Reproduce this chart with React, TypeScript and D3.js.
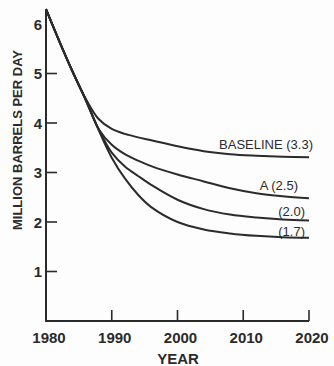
import React from "react";
import { scaleLinear, line, curveCatmullRom } from "d3";

// years sampled along the curves
const years = [1980, 1982, 1984, 1986, 1988, 1990, 1992, 1994, 1996, 2000, 2004, 2008, 2012, 2016, 2020];
const baseline = [6.3, 5.66, 5.05, 4.5, 4.08, 3.88, 3.78, 3.71, 3.65, 3.53, 3.43, 3.37, 3.34, 3.32, 3.31];
const caseA = [6.3, 5.66, 5.05, 4.48, 3.88, 3.56, 3.37, 3.24, 3.13, 2.96, 2.82, 2.68, 2.58, 2.52, 2.48];
const case20 = [6.3, 5.66, 5.05, 4.48, 3.88, 3.4, 3.12, 2.93, 2.75, 2.45, 2.26, 2.15, 2.09, 2.05, 2.03];
const case17 = [6.3, 5.66, 5.05, 4.48, 3.86, 3.3, 2.88, 2.55, 2.3, 2.0, 1.85, 1.77, 1.72, 1.69, 1.68];

const series = [
  { label: "BASELINE (3.3)", values: baseline, dx: 4, dy: -8 },
  { label: "A  (2.5)", values: caseA, dx: -11, dy: -8 },
  { label: "(2.0)", values: case20, dx: -4, dy: -5 },
  { label: "(1.7)", values: case17, dx: -4, dy: -2 },
];

const xTicks = [1980, 1990, 2000, 2010, 2020];
const yTicks = [1, 2, 3, 4, 5, 6];

const W = 334;
const H = 366;
const ink = "#2b2b2b";
const font = "'Liberation Sans', Arial, sans-serif";

export default function App() {
  const x = scaleLinear().domain([1980, 2020]).range([46, 309]);
  const y = scaleLinear().domain([0, 6]).range([321, 24]);

  const path = line<number>()
    .x((d, i) => x(years[i]))
    .y((d) => y(d))
    .curve(curveCatmullRom.alpha(0.5));

  return (
    <svg
      width={W}
      height={H}
      style={{ position: "absolute", left: 0, top: 0, background: "#fdfdfd" }}
      fontFamily={font}
    >
      {/* axes */}
      <line x1={x(1980)} x2={x(1980)} y1={y(0)} y2={y(6.27)} stroke={ink} strokeWidth={2} />
      <line x1={x(1980) - 1} x2={x(2020)} y1={y(0)} y2={y(0)} stroke={ink} strokeWidth={2} />

      {xTicks.map((t) => (
        <g key={t}>
          {t !== 1980 && (
            <line x1={x(t)} x2={x(t)} y1={y(0)} y2={y(0) - 11} stroke={ink} strokeWidth={1.6} />
          )}
          <text x={x(t) + 3} y={343} textAnchor="middle" fontSize={15} fontWeight="bold" fill={ink}>
            {t}
          </text>
        </g>
      ))}

      {yTicks.map((t) => (
        <g key={t}>
          {t !== 6 && (
            <line x1={x(1980)} x2={x(1980) + 11} y1={y(t)} y2={y(t)} stroke={ink} strokeWidth={1.6} />
          )}
          <text x={42} y={y(t) + 5.5} textAnchor="end" fontSize={15} fontWeight="bold" fill={ink}>
            {t}
          </text>
        </g>
      ))}

      <text x={178} y={364} textAnchor="middle" fontSize={15} fontWeight="bold" fill={ink}>
        YEAR
      </text>
      <text
        transform={`translate(22,140) rotate(-90)`}
        textAnchor="middle"
        fontSize={13}
        fontWeight="bold"
        fill={ink}
      >
        MILLION BARRELS PER DAY
      </text>

      {series.map((s) => (
        <g key={s.label}>
          <path d={path(s.values) ?? ""} fill="none" stroke={ink} strokeWidth={2} />
          <text
            x={x(2020) + s.dx}
            y={y(s.values[s.values.length - 1]) + s.dy}
            textAnchor="end"
            fontSize={13}
            fill={ink}
          >
            {s.label}
          </text>
        </g>
      ))}
    </svg>
  );
}
